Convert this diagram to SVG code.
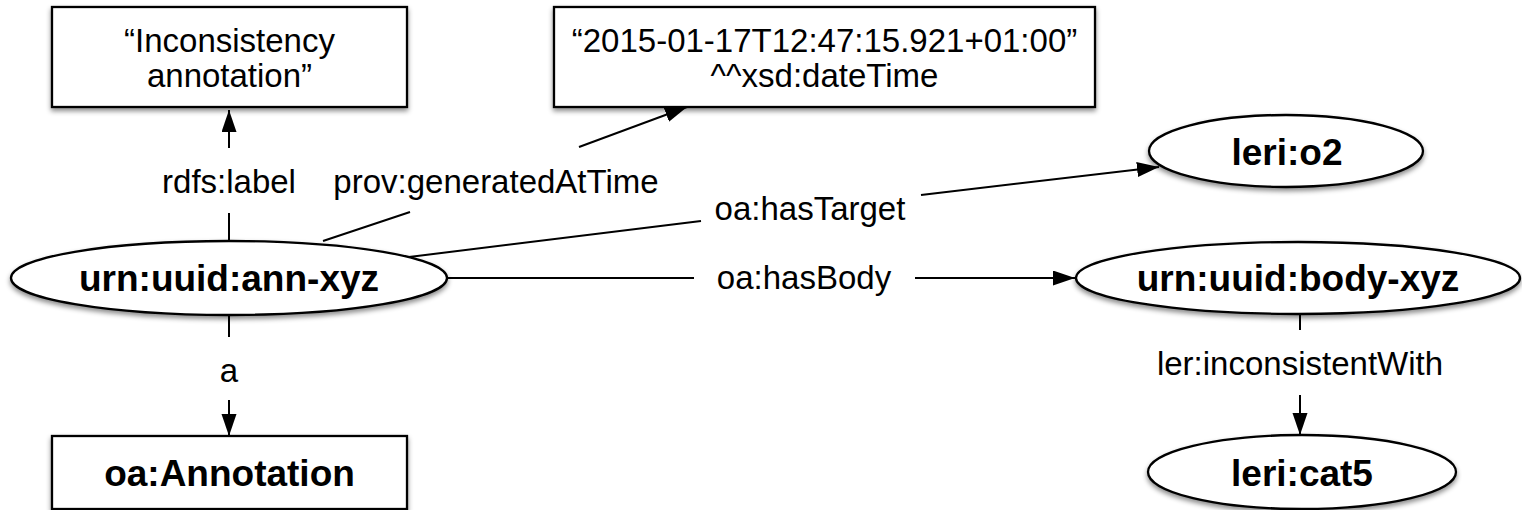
<svg xmlns="http://www.w3.org/2000/svg" width="1522" height="510" viewBox="0 0 1522 510">
<defs>
<filter id="sh" x="-10%" y="-20%" width="120%" height="150%">
<feDropShadow dx="0" dy="3" stdDeviation="2.5" flood-color="#000" flood-opacity="0.45"/>
</filter>
<marker id="arr" markerUnits="userSpaceOnUse" markerWidth="24" markerHeight="16" refX="22" refY="7.5" orient="auto">
<path d="M0,0 L22,7.5 L0,15 z" fill="#000"/>
</marker>
<style>
.shape{fill:#fff;stroke:#000;stroke-width:2.3;filter:url(#sh)}
.lbl{font-family:"Liberation Sans",Arial,Helvetica,sans-serif;font-size:33px;fill:#000;text-anchor:middle}
.bold{font-family:"Liberation Sans",Arial,Helvetica,sans-serif;font-size:37px;font-weight:bold;fill:#000;text-anchor:middle}
.edge{stroke:#000;stroke-width:2;fill:none}
.arrow{marker-end:url(#arr)}
</style>
</defs>
<rect width="1522" height="510" fill="#fff"/>

<g id="connectors">
<g id="e-label">
<line class="edge" x1="229" y1="241" x2="229" y2="213"/>
<line class="edge arrow" x1="229" y1="148" x2="229" y2="110"/>
<text class="lbl" x="229" y="193">rdfs:label</text>
</g>
<g id="e-time">
<line class="edge" x1="323" y1="241" x2="410" y2="212"/>
<line class="edge arrow" x1="579" y1="147" x2="687" y2="107"/>
<text class="lbl" x="496" y="193">prov:generatedAtTime</text>
</g>
<g id="e-target">
<line class="edge" x1="409" y1="257" x2="701" y2="221"/>
<line class="edge arrow" x1="921" y1="195" x2="1159" y2="167"/>
<text class="lbl" x="810" y="220">oa:hasTarget</text>
</g>
<g id="e-body">
<line class="edge" x1="447" y1="278" x2="694" y2="278"/>
<line class="edge arrow" x1="915" y1="278" x2="1075" y2="278"/>
<text class="lbl" x="804" y="289">oa:hasBody</text>
</g>
<g id="e-type">
<line class="edge" x1="229" y1="315" x2="229" y2="337"/>
<line class="edge arrow" x1="229" y1="400" x2="229" y2="436"/>
<text class="lbl" x="229" y="382">a</text>
</g>
<g id="e-incons">
<line class="edge" x1="1300" y1="314" x2="1300" y2="330"/>
<line class="edge arrow" x1="1300" y1="395" x2="1300" y2="435"/>
<text class="lbl" x="1300" y="375">ler:inconsistentWith</text>
</g>
</g>

<g id="n-label">
<rect class="shape" x="52" y="7" width="355" height="100"/>
<text class="lbl" x="229.5" y="52">“Inconsistency</text>
<text class="lbl" x="229.5" y="87">annotation”</text>
</g>
<g id="n-time">
<rect class="shape" x="554" y="7" width="541" height="100"/>
<text class="lbl" x="824.5" y="52">“2015-01-17T12:47:15.921+01:00”</text>
<text class="lbl" x="824.5" y="87">^^xsd:dateTime</text>
</g>
<g id="n-ann">
<ellipse class="shape" cx="229" cy="278" rx="218" ry="37"/>
<text class="bold" x="229" y="291">urn:uuid:ann-xyz</text>
</g>
<g id="n-o2">
<ellipse class="shape" cx="1286" cy="151" rx="137" ry="36"/>
<text class="bold" x="1287" y="165">leri:o2</text>
</g>
<g id="n-body">
<ellipse class="shape" cx="1298" cy="278" rx="222" ry="36"/>
<text class="bold" x="1298" y="291">urn:uuid:body-xyz</text>
</g>
<g id="n-annotation">
<rect class="shape" x="52" y="436" width="355" height="73"/>
<text class="bold" x="229.5" y="486">oa:Annotation</text>
</g>
<g id="n-cat5">
<ellipse class="shape" cx="1302" cy="472" rx="154" ry="37"/>
<text class="bold" x="1302" y="486">leri:cat5</text>
</g>
</svg>
